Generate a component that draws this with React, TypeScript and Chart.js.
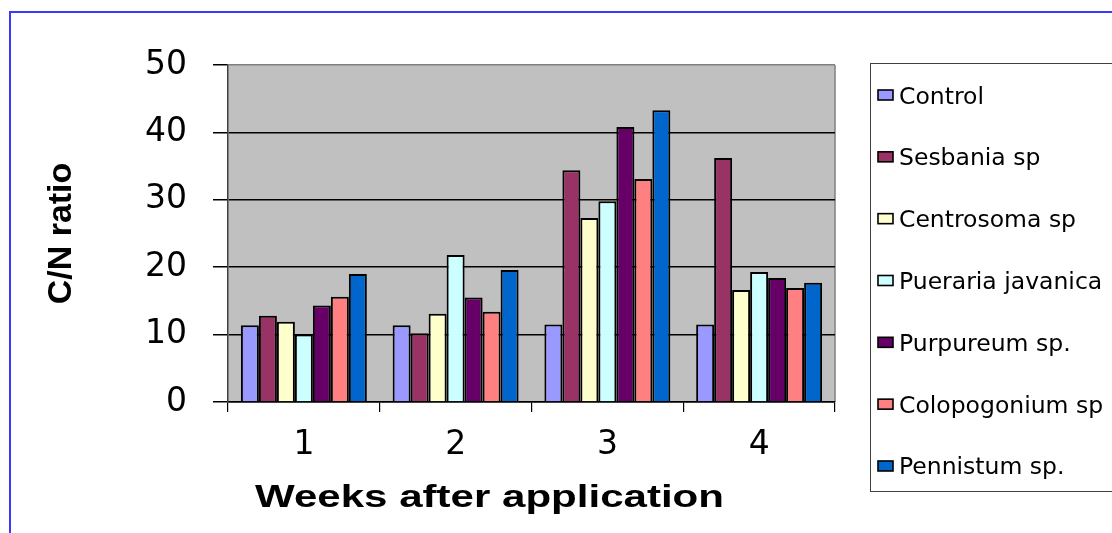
import React, { useEffect, useRef } from "react";
import { Chart, registerables } from "chart.js";

Chart.register(...registerables);

// ---- data ----
const weeks = ["1", "2", "3", "4"];
const seriesNames = [
  "Control",
  "Sesbania sp",
  "Centrosoma sp",
  "Pueraria javanica",
  "Purpureum sp.",
  "Colopogonium sp",
  "Pennistum sp.",
];
const control = [11.4, 11.4, 11.5, 11.5];
const sesbania = [12.8, 10.2, 34.4, 36.2];
const centrosoma = [11.9, 13.1, 27.3, 16.6];
const pueraria = [10.0, 21.8, 29.8, 19.3];
const purpureum = [14.3, 15.5, 40.8, 18.4];
const colopogonium = [15.6, 13.4, 33.1, 16.9];
const pennistum = [19.0, 19.6, 43.3, 17.7];
const seriesValues = [control, sesbania, centrosoma, pueraria, purpureum, colopogonium, pennistum];
const seriesColors = ["#9999FF", "#993366", "#FFFFCC", "#CCFFFF", "#660066", "#FF8080", "#0066CC"];
const yMin = 0;
const yMax = 50;
const yStep = 10;
const yTitle = "C/N ratio";
const xTitle = "Weeks after application";

const decorPlugin = {
  id: "decor",
  beforeDraw(chart: any) {
    const { ctx, chartArea: a } = chart;
    ctx.save();
    // plot background
    ctx.fillStyle = "#C0C0C0";
    ctx.fillRect(a.left, a.top, a.right - a.left, a.bottom - a.top);
    // right border of plot area
    ctx.strokeStyle = "#808080";
    ctx.lineWidth = 1.5;
    ctx.beginPath();
    ctx.moveTo(a.right, a.top);
    ctx.lineTo(a.right, a.bottom);
    ctx.stroke();
    // blue page frame
    ctx.fillStyle = "#3a3aff";
    ctx.fillRect(9, 11, 2, chart.height - 11);
    ctx.fillRect(9, 11, chart.width - 9, 2);
    ctx.restore();
  },
  afterDraw(chart: any) {
    const { ctx, chartArea: a } = chart;
    ctx.save();
    // x axis title (wide, stretched look)
    ctx.font = 'bold 32px "Liberation Sans", Arial, sans-serif';
    const w = ctx.measureText(xTitle).width;
    const targetW = 469;
    ctx.translate(a.left + 261.5, a.bottom + 105);
    ctx.scale(targetW / w, 1);
    ctx.fillStyle = "#000";
    ctx.textAlign = "center";
    ctx.textBaseline = "alphabetic";
    ctx.fillText(xTitle, 0, 0);
    ctx.restore();

    // legend
    ctx.save();
    const lx = a.right + 35;
    ctx.strokeStyle = "#404040";
    ctx.lineWidth = 1;
    ctx.strokeRect(lx + 0.5, a.top - 1.5, 400, 428);
    ctx.font = '23.5px "DejaVu Sans", sans-serif';
    ctx.textAlign = "left";
    ctx.textBaseline = "alphabetic";
    chart.data.datasets.forEach((ds: any, i: number) => {
      const cy = a.top + 30 + i * 61.83;
      ctx.fillStyle = ds.backgroundColor;
      ctx.fillRect(lx + 8, cy - 5, 15, 10);
      ctx.strokeStyle = "#000";
      ctx.lineWidth = 1.6;
      ctx.strokeRect(lx + 8, cy - 5, 15, 10);
      ctx.fillStyle = "#000";
      ctx.fillText(ds.label, lx + 29, cy + 8.5);
    });
    ctx.restore();
  },
};

export default function App() {
  const canvasRef = useRef<HTMLCanvasElement | null>(null);

  useEffect(() => {
    if (!canvasRef.current) return;
    const chart = new Chart(canvasRef.current, {
      type: "bar",
      data: {
        labels: weeks,
        datasets: seriesNames.map((name, i) => ({
          label: name,
          data: seriesValues[i],
          backgroundColor: seriesColors[i],
          borderColor: "#000",
          borderWidth: 2,
          categoryPercentage: 0.83,
          barPercentage: 1,
        })),
      },
      options: {
        responsive: false,
        animation: false,
        devicePixelRatio: 1,
        layout: { padding: { top: 65, right: 277, bottom: 0, left: 0 } },
        plugins: {
          legend: { display: false },
          tooltip: { enabled: false },
        },
        scales: {
          x: {
            afterFit: (scale: any) => {
              scale.height = 131;
            },
            grid: {
              display: true,
              drawOnChartArea: false,
              drawTicks: true,
              tickLength: 10,
              color: "#000",
              lineWidth: 1.2,
              offset: true,
            },
            border: { display: true, color: "#000", width: 1.5 },
            ticks: {
              color: "#000",
              font: { family: "DejaVu Sans", size: 33 },
              padding: 13.8,
              maxRotation: 0,
            },
          },
          y: {
            min: yMin,
            max: yMax,
            afterFit: (scale: any) => {
              scale.width = 228;
            },
            grid: {
              color: (c: any) => (c.tick && c.tick.value === yMax ? "#808080" : "#000"),
              tickColor: "#000",
              lineWidth: 1.5,
              tickLength: 15,
            },
            border: { display: true, color: "#404040", width: 1.5 },
            ticks: {
              stepSize: yStep,
              color: "#000",
              font: { family: "DejaVu Sans", size: 33 },
              padding: 26,
            },
            title: {
              display: true,
              text: yTitle,
              color: "#000",
              font: { family: "Liberation Sans", size: 34, weight: "bold" },
              padding: { top: 41.5, bottom: 0 },
            },
          },
        },
      },
      plugins: [decorPlugin],
    } as any);
    return () => chart.destroy();
  }, []);

  return (
    <div style={{ position: "absolute", left: 0, top: 0, width: 1112, height: 533, background: "#fff" }}>
      <canvas ref={canvasRef} width={1112} height={533} style={{ display: "block" }} />
    </div>
  );
}
